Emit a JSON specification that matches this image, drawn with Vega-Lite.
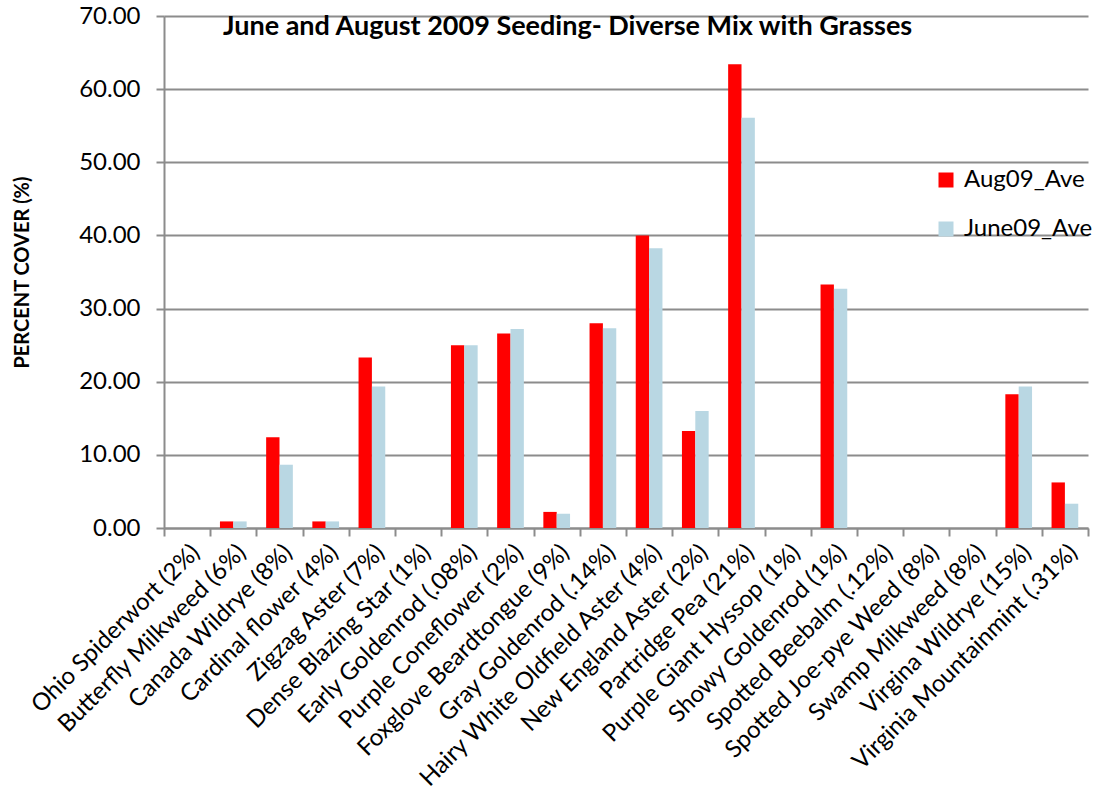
{
  "$schema": "https://vega.github.io/schema/vega-lite/v6.json",
  "autosize": "none",
  "width": 924,
  "height": 512,
  "padding": {"left": 164, "top": 16, "right": 6, "bottom": 269},
  "background": "white",
  "config": {
    "font": "Lato",
    "view": {"stroke": null}
  },
  "title": {
    "text": "June and August 2009 Seeding- Diverse Mix with Grasses",
    "font": "Lato",
    "fontSize": 27,
    "fontWeight": "bold",
    "color": "black",
    "frame": "group",
    "anchor": "start",
    "dx": 59,
    "offset": -64,
    "baseline": "bottom"
  },
  "data": {
    "values": [
      {"species": "Ohio Spiderwort (2%)", "series": "Aug09_Ave", "cover": 0},
      {"species": "Ohio Spiderwort (2%)", "series": "June09_Ave", "cover": 0},
      {"species": "Butterfly Milkweed (6%)", "series": "Aug09_Ave", "cover": 0.9},
      {"species": "Butterfly Milkweed (6%)", "series": "June09_Ave", "cover": 0.9},
      {"species": "Canada Wildrye (8%)", "series": "Aug09_Ave", "cover": 12.4},
      {"species": "Canada Wildrye (8%)", "series": "June09_Ave", "cover": 8.65},
      {"species": "Cardinal flower (4%)", "series": "Aug09_Ave", "cover": 0.9},
      {"species": "Cardinal flower (4%)", "series": "June09_Ave", "cover": 0.9},
      {"species": "Zigzag Aster (7%)", "series": "Aug09_Ave", "cover": 23.3},
      {"species": "Zigzag Aster (7%)", "series": "June09_Ave", "cover": 19.35},
      {"species": "Dense Blazing Star (1%)", "series": "Aug09_Ave", "cover": 0},
      {"species": "Dense Blazing Star (1%)", "series": "June09_Ave", "cover": 0},
      {"species": "Early Goldenrod (.08%)", "series": "Aug09_Ave", "cover": 25.0},
      {"species": "Early Goldenrod (.08%)", "series": "June09_Ave", "cover": 25.0},
      {"species": "Purple Coneflower (2%)", "series": "Aug09_Ave", "cover": 26.6},
      {"species": "Purple Coneflower (2%)", "series": "June09_Ave", "cover": 27.2},
      {"species": "Foxglove Beardtongue (9%)", "series": "Aug09_Ave", "cover": 2.2},
      {"species": "Foxglove Beardtongue (9%)", "series": "June09_Ave", "cover": 1.95},
      {"species": "Gray Goldenrod (.14%)", "series": "Aug09_Ave", "cover": 28.0},
      {"species": "Gray Goldenrod (.14%)", "series": "June09_Ave", "cover": 27.3},
      {"species": "Hairy White Oldfield Aster (4%)", "series": "Aug09_Ave", "cover": 40.0},
      {"species": "Hairy White Oldfield Aster (4%)", "series": "June09_Ave", "cover": 38.25},
      {"species": "New England Aster (2%)", "series": "Aug09_Ave", "cover": 13.25},
      {"species": "New England Aster (2%)", "series": "June09_Ave", "cover": 16.0},
      {"species": "Partridge Pea (21%)", "series": "Aug09_Ave", "cover": 63.4},
      {"species": "Partridge Pea (21%)", "series": "June09_Ave", "cover": 56.1},
      {"species": "Purple Giant Hyssop (1%)", "series": "Aug09_Ave", "cover": 0},
      {"species": "Purple Giant Hyssop (1%)", "series": "June09_Ave", "cover": 0},
      {"species": "Showy Goldenrod (1%)", "series": "Aug09_Ave", "cover": 33.3},
      {"species": "Showy Goldenrod (1%)", "series": "June09_Ave", "cover": 32.7},
      {"species": "Spotted Beebalm (.12%)", "series": "Aug09_Ave", "cover": 0},
      {"species": "Spotted Beebalm (.12%)", "series": "June09_Ave", "cover": 0},
      {"species": "Spotted Joe-pye Weed (8%)", "series": "Aug09_Ave", "cover": 0},
      {"species": "Spotted Joe-pye Weed (8%)", "series": "June09_Ave", "cover": 0},
      {"species": "Swamp Milkweed (8%)", "series": "Aug09_Ave", "cover": 0},
      {"species": "Swamp Milkweed (8%)", "series": "June09_Ave", "cover": 0},
      {"species": "Virgina Wildrye (15%)", "series": "Aug09_Ave", "cover": 18.3},
      {"species": "Virgina Wildrye (15%)", "series": "June09_Ave", "cover": 19.35},
      {"species": "Virginia Mountainmint (.31%)", "series": "Aug09_Ave", "cover": 6.23},
      {"species": "Virginia Mountainmint (.31%)", "series": "June09_Ave", "cover": 3.32}
    ]
  },
  "mark": {"type": "bar"},
  "encoding": {
    "x": {
      "field": "species",
      "type": "nominal",
      "sort": null,
      "scale": {"paddingInner": 0, "paddingOuter": 0},
      "axis": {
        "title": null,
        "labelAngle": -45,
        "labelFont": "Lato",
        "labelFontSize": 24,
        "labelColor": "black",
        "labelPadding": 4,
        "labelLimit": 400,
        "tickBand": "extent",
        "tickSize": 8,
        "tickColor": "#8c8c8c",
        "tickWidth": 2,
        "domainColor": "#8c8c8c",
        "domainWidth": 2,
        "grid": false
      }
    },
    "xOffset": {
      "field": "series",
      "type": "nominal",
      "sort": ["Aug09_Ave", "June09_Ave"],
      "scale": {"paddingInner": 0, "paddingOuter": 0.73}
    },
    "y": {
      "field": "cover",
      "type": "quantitative",
      "scale": {"domain": [0, 70], "nice": false},
      "axis": {
        "title": "PERCENT COVER (%)",
        "titleFont": "Lato",
        "titleFontSize": 20,
        "titleFontWeight": "bold",
        "titleColor": "black",
        "titlePadding": 46,
        "values": [0, 10, 20, 30, 40, 50, 60, 70],
        "format": ".2f",
        "labelFont": "Lato",
        "labelFontSize": 24,
        "labelColor": "black",
        "labelPadding": 16,
        "tickSize": 8,
        "tickColor": "#8c8c8c",
        "tickWidth": 2,
        "domainColor": "#8c8c8c",
        "domainWidth": 2,
        "grid": true,
        "gridColor": "#8c8c8c",
        "gridWidth": 2
      }
    },
    "color": {
      "field": "series",
      "type": "nominal",
      "scale": {"domain": ["Aug09_Ave", "June09_Ave"], "range": ["#ff0000", "#b9d7e3"]},
      "legend": {
        "title": null,
        "orient": "none",
        "legendX": 770,
        "legendY": 152,
        "symbolType": "square",
        "symbolSize": 225,
        "symbolStrokeWidth": 0,
        "labelFont": "Lato",
        "labelFontSize": 24,
        "labelColor": "black",
        "labelOffset": 6,
        "rowPadding": 25
      }
    }
  }
}
